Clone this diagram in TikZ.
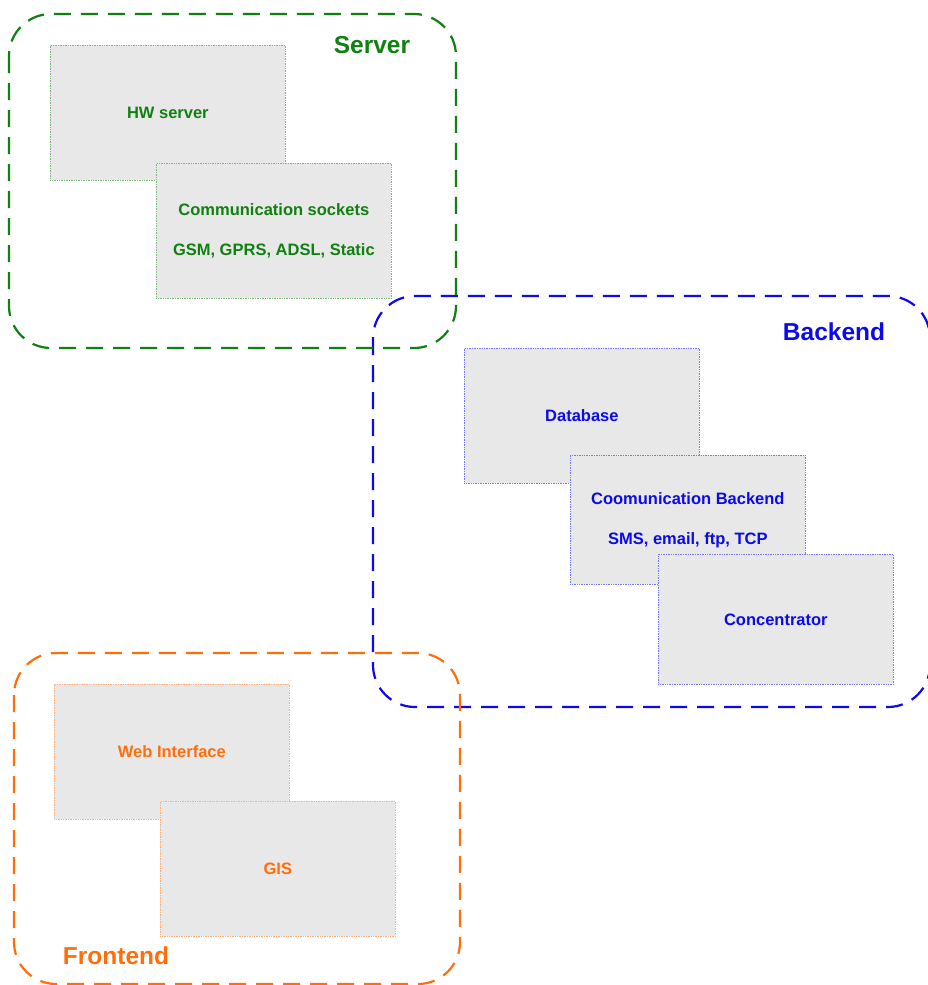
\documentclass[tikz,border=0pt]{standalone}
\usepackage{fontspec}
\setmainfont{Liberation Sans}
\definecolor{srvgreen}{RGB}{16,128,16}
\definecolor{bkblue}{RGB}{10,10,235}
\definecolor{feorange}{RGB}{255,110,10}
\definecolor{boxfill}{RGB}{232,232,232}
\begin{document}
\begin{tikzpicture}[x=1pt,y=-1pt,
  frame/.style={dash pattern=on 17pt off 10pt, line width=2.2pt, rounded corners=42pt},
  box/.style={rectangle, fill=boxfill, draw=#1!55, densely dotted, line width=0.7pt,
     minimum width=235pt, minimum height=135pt, anchor=north west, inner sep=0pt,
     align=center, text=#1, font=\bfseries\fontsize{16.5}{20}\selectfont},
  title/.style={text=#1, font=\bfseries\fontsize{24.5}{28}\selectfont, inner sep=0pt}]
\useasboundingbox (0,0) rectangle (928,985);
% Server group
\node[box=srvgreen] (hw) at (50,45) {HW server};
\node[box=srvgreen] (cs) at (156,163) {Communication sockets\\[20pt]GSM, GPRS, ADSL, Static};
\node[title=srvgreen] (srvt) at (372,45) {Server};
% Backend group
\node[box=bkblue] (db) at (464,348) {Database};
\node[box=bkblue, minimum height=129pt] (cb) at (570,455) {Coomunication Backend\\[20pt]SMS, email, ftp, TCP};
\node[box=bkblue, minimum height=130pt] (conc) at (658,554) {Concentrator};
\node[title=bkblue] (bkt) at (834,332) {Backend};
% Frontend group
\node[box=feorange] (web) at (54,684) {Web Interface};
\node[box=feorange] (gis) at (160,801) {GIS};
\node[title=feorange] (fet) at (116,956) {Frontend};
% frames
\draw[frame, draw=bkblue] (373,296) rectangle (930,707);
\draw[frame, draw=feorange] (14,653) rectangle (460,984);
\draw[frame, draw=srvgreen] (9,14) rectangle (456,348);
\end{tikzpicture}
\end{document}
